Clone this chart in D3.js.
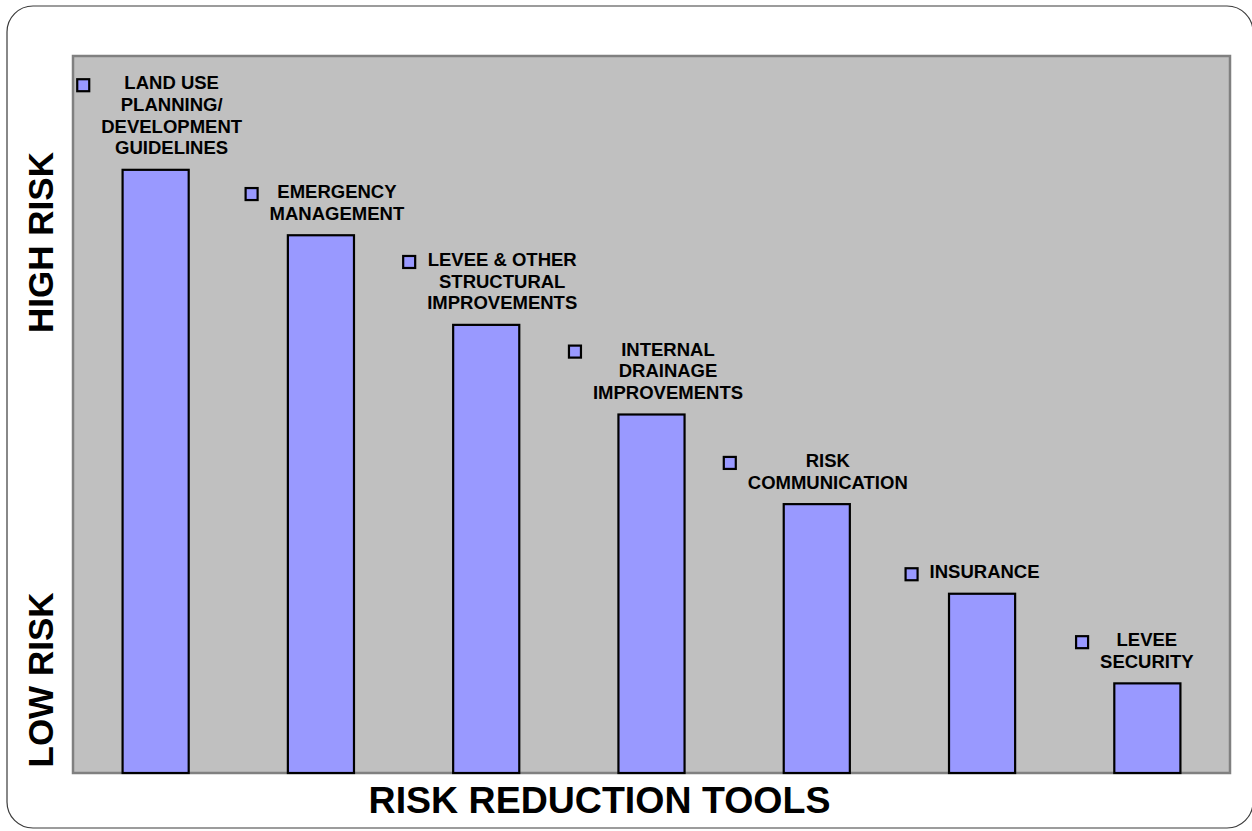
<!DOCTYPE html>
<html>
<head>
<meta charset="utf-8">
<script src="https://cdn.jsdelivr.net/npm/d3@7"></script>
<style>
  html, body { margin: 0; padding: 0; background: #fff; }
  svg { display: block; }
  text { font-family: "Liberation Sans", Arial, sans-serif; font-weight: bold; }
</style>
</head>
<body>
<svg id="chart" width="1252" height="831"></svg>
<script>
// ---- data ----
const categories = [
  "LAND USE PLANNING/ DEVELOPMENT GUIDELINES",
  "EMERGENCY MANAGEMENT",
  "LEVEE & OTHER STRUCTURAL IMPROVEMENTS",
  "INTERNAL DRAINAGE IMPROVEMENTS",
  "RISK COMMUNICATION",
  "INSURANCE",
  "LEVEE SECURITY"
];
const labelLines = [
  ["LAND USE", "PLANNING/", "DEVELOPMENT", "GUIDELINES"],
  ["EMERGENCY", "MANAGEMENT"],
  ["LEVEE & OTHER", "STRUCTURAL", "IMPROVEMENTS"],
  ["INTERNAL", "DRAINAGE", "IMPROVEMENTS"],
  ["RISK", "COMMUNICATION"],
  ["INSURANCE"],
  ["LEVEE", "SECURITY"]
];
const riskValues = [6.73, 6, 5, 4, 3, 2, 1];
const yDomain = [0, 8];
const yAxisLabels = ["HIGH RISK", "LOW RISK"];
const xAxisTitle = "RISK REDUCTION TOOLS";

// ---- layout (styles) ----
const labelNudge = [16, 16, 16, 16.5, 11, 2.5, -0.5];
const plot = { left: 73, right: 1230, top: 56, bottom: 773 };
const barColor = "#9999FF";

const svg = d3.select("#chart");

// outer rounded frame
svg.append("rect")
  .attr("x", 7).attr("y", 6).attr("width", 1246).attr("height", 822)
  .attr("rx", 26).attr("ry", 26)
  .attr("fill", "#fff").attr("stroke", "#3a3a3a").attr("stroke-width", 1.2);

const x = d3.scaleBand()
  .domain(categories)
  .range([plot.left, plot.right])
  .paddingInner(0.6)
  .paddingOuter(0.3);

const y = d3.scaleLinear().domain(yDomain).range([plot.bottom, plot.top]);

// plot area
svg.append("rect")
  .attr("x", plot.left).attr("y", plot.top)
  .attr("width", plot.right - plot.left).attr("height", plot.bottom - plot.top)
  .attr("fill", "#C0C0C0").attr("stroke", "#808080").attr("stroke-width", 2.5);

// bars
svg.append("g").selectAll("rect")
  .data(riskValues)
  .join("rect")
  .attr("x", (d, i) => x(categories[i]))
  .attr("y", d => y(d))
  .attr("width", x.bandwidth())
  .attr("height", d => y(0) - y(d))
  .attr("fill", barColor)
  .attr("stroke", "#000")
  .attr("stroke-width", 2.2);

// data labels with legend keys
const lineH = 21.7;
const lg = svg.append("g");
riskValues.forEach((v, i) => {
  const lines = labelLines[i];
  const cx = x(categories[i]) + x.bandwidth() / 2 + labelNudge[i];
  const lastBase = y(v) - 15.5;
  const firstBase = lastBase - (lines.length - 1) * lineH;
  const g = lg.append("g");
  const t = g.selectAll("text")
    .data(lines)
    .join("text")
    .attr("x", cx)
    .attr("y", (d, k) => firstBase + k * lineH)
    .attr("text-anchor", "middle")
    .attr("font-size", 18.5)
    .attr("fill", "#000")
    .text(d => d);
  let maxW = 0;
  t.each(function() { maxW = Math.max(maxW, this.getComputedTextLength()); });
  const keyLeft = cx - maxW / 2 - 11 - 14;
  g.append("rect")
    .attr("x", keyLeft + 1)
    .attr("y", firstBase - 11 + 1)
    .attr("width", 12).attr("height", 12)
    .attr("fill", barColor)
    .attr("stroke", "#000")
    .attr("stroke-width", 2.2);
});

// y axis labels (rotated)
svg.append("text")
  .attr("transform", "translate(53.3,242.5) rotate(-90)")
  .attr("text-anchor", "middle")
  .attr("font-size", 35)
  .attr("fill", "#000")
  .text(yAxisLabels[0]);
svg.append("text")
  .attr("transform", "translate(53.3,680) rotate(-90)")
  .attr("text-anchor", "middle")
  .attr("font-size", 35)
  .attr("fill", "#000")
  .text(yAxisLabels[1]);

// x axis title
svg.append("text")
  .attr("x", 599.5).attr("y", 813.3)
  .attr("text-anchor", "middle")
  .attr("font-size", 37.5)
  .attr("fill", "#000")
  .text(xAxisTitle);
</script>
</body>
</html>
